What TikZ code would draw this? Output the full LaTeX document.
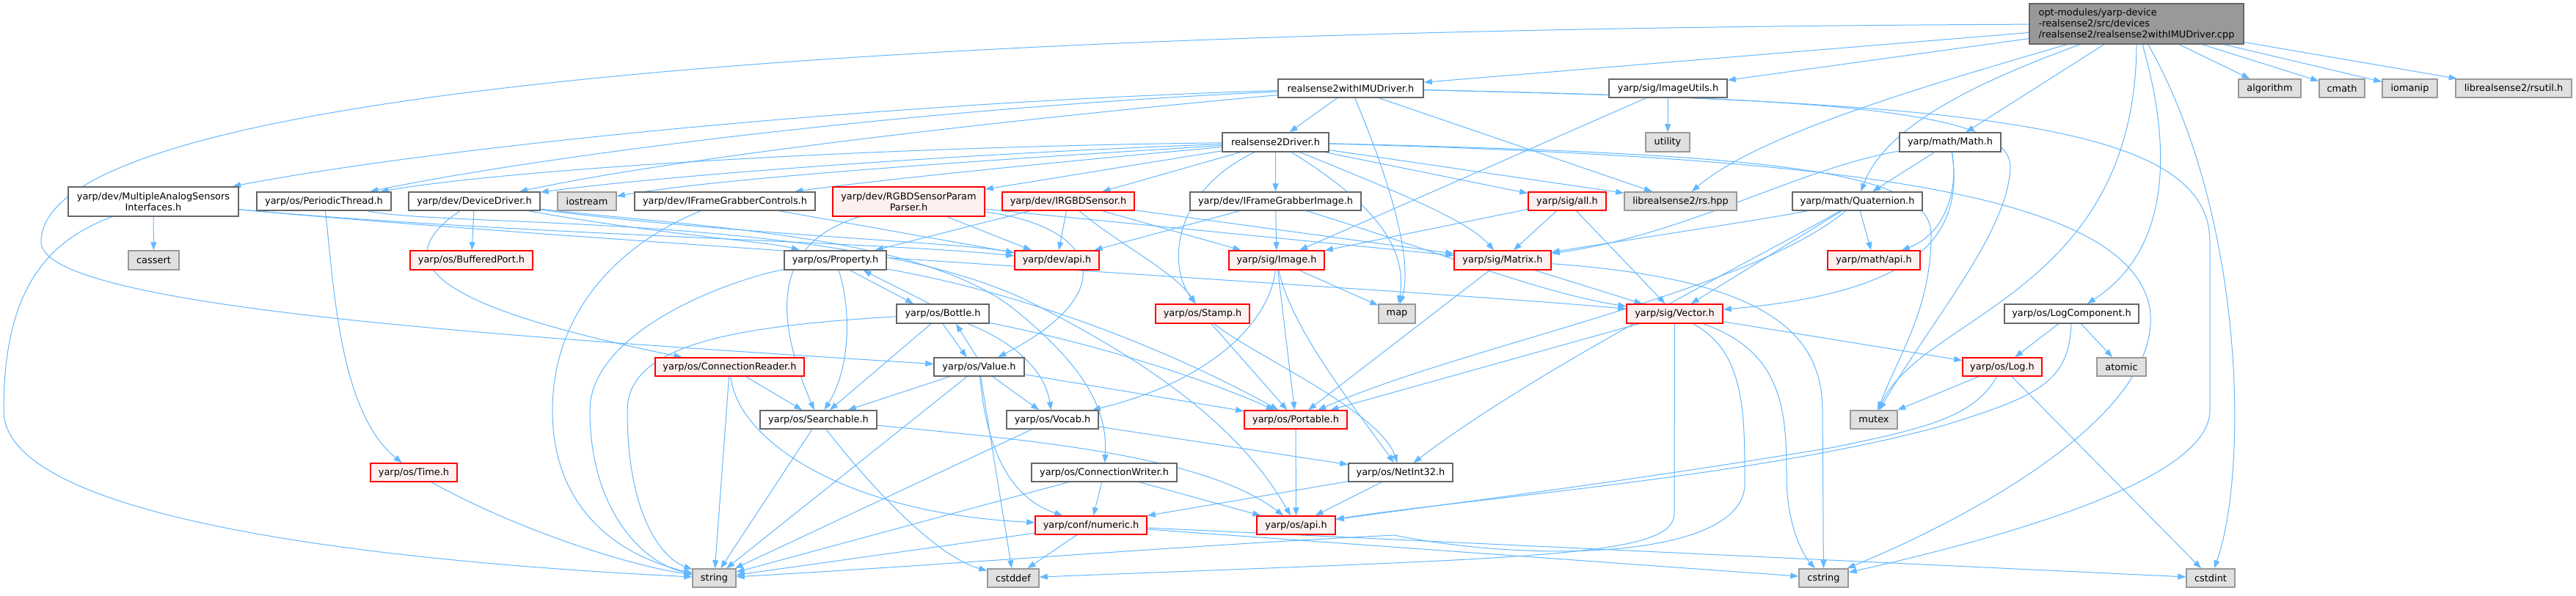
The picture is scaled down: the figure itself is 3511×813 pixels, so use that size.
\documentclass[tikz,border=0pt]{standalone}
\usepackage{fontspec}
\setmainfont{DejaVu Sans}
\usetikzlibrary{arrows.meta}
\pgfdeclarelayer{edgelayer}
\pgfsetlayers{edgelayer,main}
\definecolor{edgec}{HTML}{63B8FF}
\definecolor{grayfill}{HTML}{E0E0E0}
\definecolor{grayline}{HTML}{999999}
\definecolor{normline}{HTML}{666666}
\definecolor{redfill}{HTML}{FFF0F0}
\definecolor{mainfill}{HTML}{999999}
\begin{document}
\begin{tikzpicture}[x=1pt,y=-1pt,
  basebox/.style={rectangle,inner sep=0pt,line width=1.5pt,align=center,font=\fontsize{12.9}{15}\selectfont},
  wbox/.style={basebox,draw=normline,fill=white},
  rbox/.style={basebox,draw=red,fill=redfill},
  gbox/.style={basebox,draw=grayline,fill=grayfill},
  mbox/.style={basebox,draw=normline,fill=mainfill,align=left},
  lnk/.style={draw=edgec,line width=1pt,-{Triangle[length=11pt,width=8pt]}}]
\useasboundingbox (0,0) rectangle (3511,813);
% ---- nodes ----
\node[mbox,minimum width=292,minimum height=55] (main) at (2912,32.5) {opt-modules/yarp-device\\-realsense2/src/devices\\/realsense2/realsense2withIMUDriver.cpp};
\node[wbox,minimum width=198,minimum height=25] (wimu) at (1841,120.5) {realsense2withIMUDriver.h};
\node[wbox,minimum width=161,minimum height=25] (iu) at (2273.5,120.5) {yarp/sig/ImageUtils.h};
\node[gbox,minimum width=85,minimum height=25] (alg) at (3093.5,120.5) {algorithm};
\node[gbox,minimum width=62,minimum height=25] (cmath) at (3192,120.5) {cmath};
\node[gbox,minimum width=75,minimum height=25] (iomanip) at (3284.5,120.5) {iomanip};
\node[gbox,minimum width=158,minimum height=25] (rsutil) at (3426,120.5) {librealsense2/rsutil.h};
\node[wbox,minimum width=145,minimum height=26] (rd) at (1738.5,194) {realsense2Driver.h};
\node[gbox,minimum width=60,minimum height=26] (utility) at (2273,194) {utility};
\node[wbox,minimum width=138,minimum height=26] (mh) at (2658,194) {yarp/math/Math.h};
\node[wbox,minimum width=232,minimum height=40] (ma) at (209,275) {yarp/dev/MultipleAnalogSensors\\Interfaces.h};
\node[wbox,minimum width=183,minimum height=25] (pt) at (441.5,274.5) {yarp/os/PeriodicThread.h};
\node[wbox,minimum width=179,minimum height=25] (dd) at (646.5,274.5) {yarp/dev/DeviceDriver.h};
\node[gbox,minimum width=80,minimum height=25] (ios) at (800,274.5) {iostream};
\node[wbox,minimum width=246,minimum height=25] (ifc) at (988,274.5) {yarp/dev/IFrameGrabberControls.h};
\node[rbox,minimum width=207,minimum height=40] (rp) at (1238.5,275) {yarp/dev/RGBDSensorParam\\Parser.h};
\node[rbox,minimum width=180,minimum height=25] (ir) at (1456,274.5) {yarp/dev/IRGBDSensor.h};
\node[wbox,minimum width=233,minimum height=25] (ifi) at (1738.5,274.5) {yarp/dev/IFrameGrabberImage.h};
\node[rbox,minimum width=106,minimum height=25] (sa) at (2136,274.5) {yarp/sig/all.h};
\node[gbox,minimum width=153,minimum height=25] (rs) at (2290.5,274.5) {librealsense2/rs.hpp};
\node[wbox,minimum width=177,minimum height=25] (q) at (2531.5,274.5) {yarp/math/Quaternion.h};
\node[gbox,minimum width=69,minimum height=26] (cassert) at (209.5,355) {cassert};
\node[rbox,minimum width=167,minimum height=26] (bp) at (642.5,355) {yarp/os/BufferedPort.h};
\node[wbox,minimum width=139,minimum height=26] (prop) at (1138.5,355) {yarp/os/Property.h};
\node[rbox,minimum width=115,minimum height=26] (dapi) at (1440.5,355) {yarp/dev/api.h};
\node[rbox,minimum width=130,minimum height=26] (img) at (1740,355) {yarp/sig/Image.h};
\node[rbox,minimum width=132,minimum height=26] (mat) at (2048,355) {yarp/sig/Matrix.h};
\node[rbox,minimum width=126,minimum height=26] (mapi) at (2554,355) {yarp/math/api.h};
\node[wbox,minimum width=126,minimum height=26] (bottle) at (1285,428) {yarp/os/Bottle.h};
\node[rbox,minimum width=128,minimum height=26] (stamp) at (1639,428) {yarp/os/Stamp.h};
\node[gbox,minimum width=50,minimum height=26] (map) at (1904,428) {map};
\node[rbox,minimum width=131,minimum height=26] (vec) at (2282.5,428) {yarp/sig/Vector.h};
\node[wbox,minimum width=183,minimum height=26] (lc) at (2823.5,428) {yarp/os/LogComponent.h};
\node[rbox,minimum width=203,minimum height=25] (cr) at (994.5,500.5) {yarp/os/ConnectionReader.h};
\node[wbox,minimum width=123,minimum height=25] (val) at (1334.5,500.5) {yarp/os/Value.h};
\node[rbox,minimum width=108,minimum height=25] (log) at (2729,500.5) {yarp/os/Log.h};
\node[gbox,minimum width=67,minimum height=25] (atomic) at (2891.5,500.5) {atomic};
\node[wbox,minimum width=159,minimum height=25] (se) at (1115.5,572.5) {yarp/os/Searchable.h};
\node[wbox,minimum width=125,minimum height=25] (vocab) at (1434.5,572.5) {yarp/os/Vocab.h};
\node[rbox,minimum width=140,minimum height=25] (port) at (1766,572.5) {yarp/os/Portable.h};
\node[gbox,minimum width=64,minimum height=25] (mutex) at (2554,572.5) {mutex};
\node[rbox,minimum width=118,minimum height=25] (time) at (564,644.5) {yarp/os/Time.h};
\node[wbox,minimum width=198,minimum height=25] (cw) at (1505,644.5) {yarp/os/ConnectionWriter.h};
\node[wbox,minimum width=142,minimum height=25] (ni) at (1909,644.5) {yarp/os/NetInt32.h};
\node[rbox,minimum width=152,minimum height=25] (num) at (1487,716.5) {yarp/conf/numeric.h};
\node[rbox,minimum width=107,minimum height=25] (oapi) at (1766.5,716.5) {yarp/os/api.h};
\node[gbox,minimum width=59,minimum height=25] (str) at (973.5,788.5) {string};
\node[gbox,minimum width=70,minimum height=25] (cstddef) at (1381,788.5) {cstddef};
\node[gbox,minimum width=67,minimum height=25] (cstring) at (2485.5,788.5) {cstring};
\node[gbox,minimum width=66,minimum height=25] (cstdint) at (3013,788.5) {cstdint};
% ---- edges (behind the boxes) ----
\begin{pgfonlayer}{edgelayer}
\fill[white] (0,0) rectangle (3511,813);
% main
\draw[lnk] (main) -- (wimu);
\draw[lnk] (main) -- (iu);
\draw[lnk] (main) -- (alg);
\draw[lnk] (main) -- (cmath);
\draw[lnk] (main) -- (iomanip);
\draw[lnk] (main) -- (rsutil);
\draw[lnk] (main) -- (mh);
\draw[lnk] (main) .. controls (2700,110) and (2570,170) .. (q);
\draw[lnk] (main) .. controls (2650,110) and (2400,180) .. (rs);
\draw[lnk] (main) .. controls (2960,200) and (2960,340) .. (lc);
\draw[lnk] (main.south) .. controls (2910,400) and (2620,430) .. (mutex);
\draw[lnk] (main) .. controls (3063,300) and (3063,650) .. (cstdint);
\draw[lnk] (main) .. controls (1200,40) and (56,120) .. (56,330) .. controls (56,420) and (700,460) .. (val);
% withIMU
\draw[lnk] (wimu) -- (rd);
\draw[lnk] (wimu) .. controls (1200,140) and (600,200) .. (ma);
\draw[lnk] (wimu) .. controls (1200,150) and (700,220) .. (pt);
\draw[lnk] (wimu) .. controls (1300,170) and (900,220) .. (dd);
\draw[lnk] (wimu) .. controls (1900,260) and (1925,360) .. (map);
\draw[lnk] (wimu) -- (rs);
\draw[lnk] (wimu) .. controls (2500,135) and (2744,150) .. (2740,230) .. controls (2735,320) and (2630,440) .. (mutex);
\draw[lnk] (wimu) .. controls (2700,140) and (3012,170) .. (3012,330) -- (3012,560) .. controls (3012,660) and (2700,740) .. (cstring);
% realsense2Driver
\draw[lnk] (rd) .. controls (1200,200) and (700,230) .. (pt);
\draw[lnk] (rd) .. controls (1300,210) and (900,240) .. (dd);
\draw[lnk] (rd) .. controls (1400,215) and (1000,240) .. (ios);
\draw[lnk] (rd) .. controls (1450,220) and (1200,245) .. (ifc);
\draw[lnk] (rd) -- (rp);
\draw[lnk] (rd) -- (ir);
\draw[lnk] (rd) -- (ifi);
\draw[lnk] (rd) .. controls (1600,260) and (1590,360) .. (stamp);
\draw[lnk] (rd) -- (sa);
\draw[lnk] (rd) -- (rs);
\draw[lnk] (rd) .. controls (1900,260) and (2000,300) .. (mat);
\draw[lnk] (rd) .. controls (1860,270) and (1920,330) .. (map);
\draw[lnk] (rd) .. controls (2400,210) and (2632,230) .. (2632,320) .. controls (2632,420) and (2590,480) .. (mutex);
\draw[lnk] (rd) .. controls (2500,215) and (2900,260) .. (2930,420) .. controls (2950,560) and (2700,700) .. (cstring);
% MultipleAnalogSensors
\draw[lnk] (ma) -- (cassert);
\draw[lnk] (ma) .. controls (60,330) and (5,400) .. (5,560) .. controls (5,720) and (600,770) .. (str);
\draw[lnk] (ma) .. controls (700,320) and (1200,330) .. (dapi);
\draw[lnk] (ma) .. controls (800,330) and (2000,400) .. (vec);
% PeriodicThread
\draw[lnk] (pt) .. controls (455,380) and (460,560) .. (time);
\draw[lnk] (pt) .. controls (600,310) and (1150,290) .. (1400,410) .. controls (1600,510) and (1700,600) .. (oapi);
% DeviceDriver
\draw[lnk] (dd) -- (bp);
\draw[lnk] (dd) .. controls (520,360) and (600,420) .. (cr);
\draw[lnk] (dd) .. controls (900,320) and (1050,330) .. (prop);
\draw[lnk] (dd) .. controls (1000,320) and (1300,330) .. (dapi);
\draw[lnk] (dd) .. controls (950,310) and (1250,320) .. (1380,420) .. controls (1480,500) and (1510,560) .. (cw);
% IFrameGrabberControls
\draw[lnk] (ifc) -- (dapi);
\draw[lnk] (ifc) .. controls (850,330) and (753,420) .. (753,560) .. controls (753,700) and (850,760) .. (str);
% RGBDSensorParamParser
\draw[lnk] (rp) -- (dapi);
\draw[lnk] (rp) .. controls (1500,310) and (1530,400) .. (val);
\draw[lnk] (rp) .. controls (1060,330) and (1050,420) .. (se);
\draw[lnk] (rp) -- (mat);
% IRGBDSensor
\draw[lnk] (ir) -- (prop);
\draw[lnk] (ir) -- (dapi);
\draw[lnk] (ir) -- (img);
\draw[lnk] (ir) -- (mat);
\draw[lnk] (ir) .. controls (1520,330) and (1600,370) .. (stamp);
% IFrameGrabberImage
\draw[lnk] (ifi) -- (img);
\draw[lnk] (ifi) -- (dapi);
\draw[lnk] (ifi) .. controls (1950,340) and (2100,400) .. (vec);
% sig/all
\draw[lnk] (sa) -- (img);
\draw[lnk] (sa) -- (mat);
\draw[lnk] (sa) -- (vec);
% ImageUtils
\draw[lnk] (iu) -- (utility);
\draw[lnk] (iu) -- (img);
% Math
\draw[lnk] (mh) -- (q);
\draw[lnk] (mh) .. controls (2670,260) and (2650,320) .. (mapi);
\draw[lnk] (mh) .. controls (2450,230) and (2300,320) .. (mat);
\draw[lnk] (mh) .. controls (2680,330) and (2600,400) .. (vec);
% Quaternion
\draw[lnk] (q) -- (mapi);
\draw[lnk] (q) .. controls (2400,300) and (2200,330) .. (mat);
\draw[lnk] (q) -- (vec);
\draw[lnk] (q) .. controls (2380,360) and (2100,500) .. (ni);
\draw[lnk] (q) .. controls (2380,400) and (2000,470) .. (port);
% Matrix
\draw[lnk] (mat) -- (port);
\draw[lnk] (mat) -- (vec);
\draw[lnk] (mat) .. controls (2400,380) and (2484,450) .. (2484,560) -- (cstring);
% Vector
\draw[lnk] (vec) -- (port);
\draw[lnk] (vec) -- (log);
\draw[lnk] (vec) .. controls (2430,480) and (2435,560) .. (2435,650) .. controls (2435,720) and (2460,760) .. (cstring);
\draw[lnk] (vec) .. controls (2378,480) and (2378,560) .. (2378,660) .. controls (2378,760) and (2100,770) .. (1900,730) .. controls (1600,745) and (1300,770) .. (str);
\draw[lnk] (vec) -- (2282,700) .. controls (2282,760) and (2100,760) .. (cstddef);
% Portable, Stamp, Image
\draw[lnk] (port) -- (oapi);
\draw[lnk] (stamp) -- (port);
\draw[lnk] (stamp) .. controls (1700,480) and (1880,560) .. (ni);
\draw[lnk] (img) -- (port);
\draw[lnk] (img) -- (map);
\draw[lnk] (img) .. controls (1760,450) and (1850,560) .. (ni);
\draw[lnk] (img) .. controls (1730,440) and (1650,520) .. (vocab);
% LogComponent, Log
\draw[lnk] (lc) -- (log);
\draw[lnk] (lc) -- (atomic);
\draw[lnk] (lc) .. controls (2820,520) and (2780,540) .. (2650,580) .. controls (2400,650) and (2000,680) .. (oapi);
\draw[lnk] (log) -- (mutex);
\draw[lnk] (log) .. controls (2690,570) and (2620,585) .. (2500,610) .. controls (2200,660) and (1950,690) .. (oapi);
\draw[lnk] (log) -- (cstdint);
% Bottle
\draw[lnk] (bottle.south) -- ([xshift=-17pt]val.north);
\draw[lnk] ([xshift=-3pt]val.north) -- ([xshift=18pt]bottle.south);
\draw[lnk] (bottle) -- (se);
\draw[lnk] (bottle) .. controls (1390,470) and (1425,510) .. (vocab);
\draw[lnk] (bottle) .. controls (1000,445) and (855,470) .. (855,560) .. controls (855,700) and (900,760) .. (str);
\draw[lnk] (bottle) .. controls (1500,470) and (1650,520) .. (port);
\draw[lnk] ([xshift=20pt]prop.south) -- ([xshift=-40pt]bottle.north);
\draw[lnk] ([xshift=-18pt]bottle.north) -- ([xshift=38pt]prop.south);
% Property
\draw[lnk] (prop) .. controls (1160,420) and (1160,500) .. (se);
\draw[lnk] (prop) .. controls (1000,380) and (804,450) .. (804,560) .. controls (804,700) and (880,770) .. (str);
\draw[lnk] (prop) .. controls (1400,400) and (1600,480) .. (port);
% Value
\draw[lnk] (val) -- (se);
\draw[lnk] (val) -- (vocab);
\draw[lnk] (val) -- (str);
\draw[lnk] (val) -- (cstddef);
\draw[lnk] (val) .. controls (1345,620) and (1380,680) .. (num);
\draw[lnk] (val) -- (port);
% ConnectionReader
\draw[lnk] (cr) -- (se);
\draw[lnk] (cr) -- (str);
\draw[lnk] (cr) .. controls (1005,600) and (1150,700) .. (num);
% Searchable
\draw[lnk] (se) -- (str);
\draw[lnk] (se) .. controls (1200,680) and (1280,760) .. (cstddef);
\draw[lnk] (se) .. controls (1400,600) and (1640,620) .. (oapi);
% Vocab
\draw[lnk] (vocab) -- (str);
\draw[lnk] (vocab) -- (ni);
% ConnectionWriter
\draw[lnk] (cw) -- (num);
\draw[lnk] (cw) -- (str);
\draw[lnk] (cw) -- (oapi);
% NetInt32
\draw[lnk] (ni) -- (num);
\draw[lnk] (ni) -- (oapi);
% numeric
\draw[lnk] (num) -- (str);
\draw[lnk] (num) -- (cstddef);
\draw[lnk] (num) -- (cstring);
\draw[lnk] (num) -- (cstdint);
% Time
\draw[lnk] (time) .. controls (700,720) and (850,770) .. (str);
\end{pgfonlayer}
\end{tikzpicture}
\end{document}
